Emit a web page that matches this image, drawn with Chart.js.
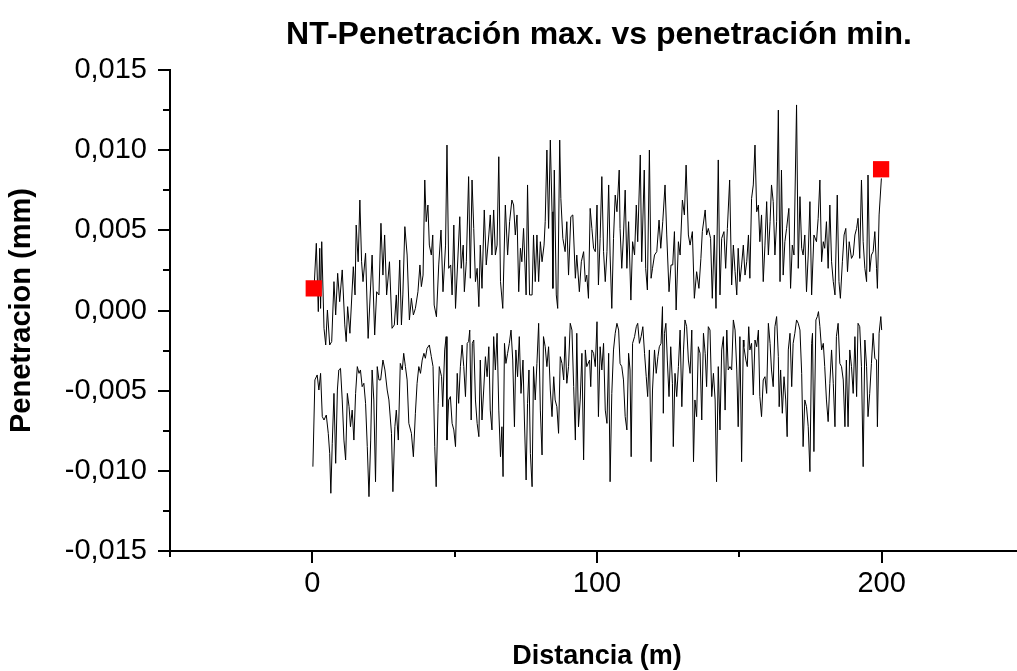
<!DOCTYPE html>
<html>
<head>
<meta charset="utf-8">
<script src="https://cdn.jsdelivr.net/npm/chart.js@4/dist/chart.umd.min.js"></script>
<style>
html,body{margin:0;padding:0;background:#fff;overflow:hidden;width:1017px;height:671px}
#wrap{position:absolute;left:0;top:0;width:1040px;height:671px}
</style>
</head>
<body>
<div id="wrap"><canvas id="c" width="1040" height="671"></canvas></div>
<script>
// ---- data (distance in m, penetration in micrometres = 0.001 mm) ----
const upperX = [0.5,1.4,2.1,2.6,2.9,3.3,4.1,4.7,5.3,6.1,6.8,7.6,8.2,8.9,9.6,10.5,11.4,11.9,12.4,13.2,14.4,15.0,15.4,16.1,16.7,17.3,17.8,18.7,19.6,21.0,21.9,22.6,23.4,24.1,24.8,25.4,26.1,27.1,28.0,28.8,29.5,29.9,30.7,31.3,31.8,32.5,33.3,34.1,34.8,35.5,36.2,37.1,37.8,38.3,38.9,39.5,40.0,40.6,41.1,41.8,42.3,42.8,43.6,44.4,45.2,45.9,46.8,47.3,47.9,48.6,49.1,49.7,
50.3,51.8,52.3,53.0,53.4,54.1,54.9,55.5,56.1,56.7,57.3,57.9,58.5,59.0,59.6,60.4,61.1,62.0,62.5,63.1,63.7,64.3,64.9,65.5,66.1,66.9,67.8,68.6,69.3,70.1,70.7,71.3,71.9,72.5,73.1,73.6,74.2,75.1,75.6,76.3,77.2,77.7,78.3,78.9,79.5,80.1,80.7,81.4,81.8,82.4,83.0,83.6,84.2,84.5,85.0,85.7,86.2,86.9,87.3,88.0,88.8,89.4,90.0,90.8,91.5,92.4,92.9,93.8,94.5,95.3,95.9,96.4,97.0,97.6,98.2,98.8,99.4,100.0,100.5,
101.1,101.7,102.3,102.9,103.5,104.1,104.6,105.2,105.8,106.4,107.0,107.8,108.1,108.7,109.3,109.9,110.5,111.1,111.9,112.5,113.2,113.8,114.3,115.2,115.7,116.6,117.1,117.7,118.4,119.0,119.5,120.2,121.0,121.8,122.4,123.1,123.9,124.5,125.3,126.0,126.6,127.2,127.8,128.6,129.2,130.0,130.7,131.3,132.1,132.7,133.5,134.2,135.0,135.8,136.5,137.0,138.0,138.5,139.1,139.9,140.5,141.2,141.8,142.6,143.2,143.8,144.6,145.2,145.8,146.6,147.3,147.9,148.5,149.1,149.6,150.2,150.8,151.4,
152.0,152.6,153.2,153.7,154.3,154.9,155.5,156.1,156.7,157.2,157.8,158.4,159.0,159.6,160.2,160.8,161.3,161.9,162.5,163.1,163.7,164.3,164.8,165.4,166.0,166.6,167.4,168.0,168.6,169.2,170.1,170.7,171.3,171.9,172.4,173.0,173.6,174.2,174.8,175.4,176.2,177.1,177.7,178.3,178.9,179.5,180.0,180.6,181.2,181.8,182.4,183.0,183.6,184.4,185.0,185.5,186.2,186.8,187.4,188.0,188.6,189.4,190.0,190.6,191.2,191.7,192.3,192.9,193.5,194.1,194.7,195.2,195.8,196.4,197.0,197.6,198.2,198.5,199.1,199.9];
const upperY = [1.0,4.19,-0.07,3.88,0.13,4.29,-1.11,-2.15,0.03,-2.15,-1.94,1.80,-0.28,2.32,0.55,2.53,-0.9,-1.94,0.24,-1.42,2.73,0.97,5.33,3.04,6.89,3.04,1.80,3.57,-1.74,3.46,-1.53,1.17,0.97,5.44,2.21,4.71,0.97,3.04,-1.11,-0.9,0.97,-0.9,3.15,-0.9,0.97,5.23,3.46,-0.59,0.76,-0.28,0.13,1.17,2.84,1.49,2.21,8.14,5.54,6.58,4.08,3.46,4.71,0.34,-0.39,2.84,5.02,1.17,4.08,10.32,2.63,2.84,0.97,5.33,
0.13,5.85,2.63,4.08,1.17,3.04,8.35,2.01,8.14,5.12,1.80,2.63,0.24,4.08,1.38,6.27,2.84,4.71,5.96,3.46,6.27,3.46,4.08,9.59,1.80,0.13,6.58,3.46,5.54,6.89,6.58,4.71,5.96,1.17,3.88,3.04,5.12,0.97,7.83,0.97,0.97,4.71,1.80,4.71,1.80,4.29,3.04,4.08,5.54,10.01,5.12,10.63,6.16,1.38,8.76,0.97,0.13,10.63,6.99,4.5,3.67,5.54,2.21,5.85,5.96,2.01,3.46,1.17,3.04,3.67,1.80,2.21,0.76,6.37,5.12,3.88,3.67,6.58,1.59,
4.5,8.35,3.67,1.8,3.67,7.83,3.46,0.13,4.5,7.2,6.16,8.76,5.12,2.63,4.71,7.51,2.63,5.54,0.65,4.29,3.46,6.58,4.29,9.7,3.04,8.76,2.63,1.28,10.01,2.01,2.63,3.46,3.67,5.64,3.88,5.54,7.83,4.71,1.17,2.84,2.84,4.92,0.03,4.29,3.46,6.89,5.96,9.07,4.71,4.08,4.92,0.76,2.42,1.38,3.25,4.92,6.27,4.71,5.12,4.5,0.76,4.71,0.13,9.39,0.97,4.5,4.92,2.63,5.12,8.14,1.59,4.08,2.42,0.97,3.88,1.8,2.84,4.08,
2.21,3.04,4.71,2.01,6.99,7.83,10.32,6.16,6.58,4.29,5.96,1.8,4.08,6.79,3.46,5.54,7.83,6.79,3.46,5.54,12.5,1.8,8.76,2.21,4.29,5.12,6.37,1.38,4.08,3.46,12.82,2.63,7.1,3.88,3.46,4.71,1.17,3.46,6.79,0.97,4.71,4.29,5.75,8.14,3.04,4.29,3.88,5.54,2.63,6.58,3.04,1.8,0.97,7.2,1.8,0.76,3.04,4.71,5.12,2.42,4.29,3.25,3.46,4.71,5.12,5.75,3.25,8.14,4.29,2.63,1.8,8.45,2.42,3.46,3.67,4.92,2.63,1.38,5.96,8.24];

const lowerX = [0.2,0.9,1.7,2.3,2.9,3.5,4.1,4.9,5.6,6.1,6.5,7.0,7.6,8.2,8.8,9.3,9.9,10.5,11.1,11.7,12.3,12.9,13.4,14.0,14.6,15.2,15.8,16.4,16.9,17.5,18.1,18.7,19.3,19.9,20.5,21.0,21.6,22.2,22.8,23.4,24.0,24.8,25.5,26.3,26.9,27.8,28.3,29.0,29.5,30.2,30.9,31.6,32.1,32.7,33.3,33.9,34.8,35.5,36.2,36.8,37.4,38.0,38.6,39.2,39.7,40.3,41.1,41.8,42.4,43.0,43.5,44.2,44.6,45.4,45.8,46.5,47.0,47.3,47.9,48.5,49.1,49.7,
50.3,50.9,51.4,52.0,52.6,53.2,53.8,54.4,54.9,55.3,55.8,56.2,56.7,57.3,57.9,58.5,59.0,59.6,60.2,60.8,61.4,62.0,62.5,63.1,63.7,64.3,64.9,65.5,66.1,66.6,67.0,67.5,68.0,68.6,69.2,69.8,70.4,71.0,71.5,72.1,72.7,73.3,74.0,74.5,75.1,75.6,76.1,76.6,77.2,77.7,78.3,78.9,79.5,80.1,80.7,81.2,81.8,82.4,83.0,83.6,84.2,84.8,85.3,85.9,86.5,87.1,87.7,88.3,88.8,89.4,90.0,90.6,91.2,91.8,92.4,92.9,93.5,94.1,94.7,95.3,95.9,96.4,97.4,97.8,98.2,98.8,99.4,100.0,100.5,
101.1,101.7,102.3,102.9,103.5,104.1,104.6,105.2,105.8,106.4,107.0,107.6,108.1,108.7,109.3,109.9,110.5,111.1,111.6,112.0,112.5,113.2,113.8,114.3,114.9,115.5,116.1,116.7,117.3,117.8,118.4,119.0,119.5,120.2,120.8,121.4,121.9,122.5,123.0,123.3,123.7,124.2,124.7,125.3,125.9,126.5,126.8,127.4,128.0,128.6,129.2,129.8,130.4,130.9,131.5,132.1,132.7,133.3,133.9,134.4,135.0,135.6,136.2,136.8,137.4,138.0,138.5,139.1,139.7,140.3,140.9,141.5,142.0,142.6,143.2,143.8,144.4,145.0,145.6,146.1,146.7,147.3,147.9,148.5,149.1,149.6,150.2,150.8,151.4,
151.6,152.3,152.8,153.3,153.7,154.3,154.9,155.5,156.1,156.7,157.2,157.8,158.4,159.0,159.6,160.2,160.8,161.3,161.9,162.5,163.1,163.7,164.0,164.5,165.1,165.7,166.3,166.8,167.2,167.8,168.4,168.9,169.5,170.1,170.7,171.3,171.9,172.4,173.0,173.6,174.2,174.8,175.4,175.7,176.2,176.9,177.4,177.8,178.3,178.9,179.5,180.0,180.6,181.2,181.8,182.4,183.0,183.6,184.1,184.7,185.3,185.9,186.5,187.1,187.6,188.2,188.8,189.4,190.0,190.6,191.2,191.7,192.3,192.9,193.5,194.1,194.7,195.2,195.8,196.4,197.0,197.6,198.2,198.5,199.1,199.7,200.0];
const lowerY = [-9.74,-4.33,-4.02,-4.96,-3.92,-6.62,-6.83,-6.52,-7.66,-8.91,-11.4,-8.28,-5.17,-9.53,-4.96,-3.71,-3.61,-5.58,-8.08,-9.32,-5.17,-6.0,-7.25,-6.21,-8.08,-5.17,-3.5,-3.92,-3.71,-4.75,-4.54,-5.79,-8.49,-11.61,-8.08,-3.71,-5.58,-10.68,-3.5,-4.33,-4.33,-3.09,-3.71,-4.96,-5.58,-7.66,-11.3,-7.25,-6.21,-8.08,-3.3,-3.71,-2.67,-3.5,-4.33,-7.04,-7.66,-9.12,-6.41,-4.54,-3.5,-3.92,-3.09,-2.67,-2.98,-2.36,-2.15,-2.88,-3.5,-8.49,-10.99,-5.79,-3.5,-4.13,-6.0,-2.46,-1.63,-8.08,-5.58,-5.37,-7.04,-7.45,
-8.49,-3.92,-5.79,-3.5,-2.15,-3.5,-5.37,-2.05,-1.94,-1.22,-6.83,-2.05,-1.84,-5.58,-7.04,-7.87,-3.09,-6.83,-4.96,-2.88,-4.13,-2.26,-6.21,-7.45,-1.63,-3.71,-1.42,-6.21,-9.12,-7.25,-10.36,-2.05,-3.3,-2.67,-2.05,-1.22,-3.09,-7.25,-2.46,-4.13,-1.63,-5.17,-3.09,-6.83,-10.57,-5.79,-3.71,-8.91,-10.99,-3.5,-5.58,-3.3,-0.8,-6.21,-9.01,-1.63,-2.26,-3.5,-2.26,-4.96,-6.62,-4.13,-5.58,-6.0,-7.66,-2.88,-3.3,-4.33,-1.63,-4.54,-3.5,-0.8,-1.22,-4.75,-8.08,-1.42,-7.25,-5.58,-2.67,-9.32,-2.46,-3.5,-3.09,-4.75,-2.46,-2.67,-3.5,-0.7,-6.62,
-2.26,-3.71,-2.05,-6.21,-7.04,-2.67,-10.68,-5.17,-2.46,-1.42,-0.8,-1.22,-3.3,-3.5,-4.33,-6.62,-7.45,-2.67,-3.71,-9.12,-2.05,-1.63,-1.01,-0.8,-2.05,-1.63,-1.01,-2.67,-4.13,-5.37,-2.46,-9.43,-4.96,-2.46,-3.92,-2.88,-2.26,-2.05,0.24,-6.41,-1.42,-0.8,-3.09,-5.37,-2.26,-4.54,-8.49,-3.92,-5.37,-3.5,-1.22,-6.0,-2.46,-0.59,-1.01,-3.09,-3.92,-1.22,-9.43,-5.58,-6.62,-2.26,-2.67,-6.83,-1.42,-2.67,-4.75,-1.01,-1.22,-5.37,-3.92,-5.58,-10.68,-3.5,-7.45,-2.46,-1.63,-6.21,-1.22,-3.71,-3.5,-3.71,-0.59,-1.22,-3.71,-7.25,-1.63,-9.43,-1.84,
-2.26,-3.09,-3.5,-1.01,-2.46,-2.05,-5.27,-1.84,-2.26,-1.22,-5.37,-6.62,-4.33,-4.13,-5.17,-0.8,-2.05,-3.71,-4.75,-1.01,-0.38,-2.88,-6.0,-3.71,-6.41,-4.13,-5.58,-7.87,-2.46,-1.42,-4.75,-2.05,-1.42,-0.59,-0.8,-1.22,-3.92,-8.49,-5.58,-6.0,-7.25,-10.05,-2.05,-1.42,-8.8,-0.59,-0.38,-0.07,-1.01,-2.46,-2.05,-3.5,-5.58,-6.93,-4.54,-2.46,-4.54,-7.25,-1.63,-0.8,-3.3,-3.5,-4.33,-7.25,-3.09,-7.25,-2.46,-3.5,-5.17,-1.63,-5.37,-0.8,-1.01,-3.5,-9.74,-1.84,-3.5,-6.62,-5.17,-3.3,-1.42,-2.98,-3.09,-7.25,-1.42,-0.38,-1.22];

const markerX = [0.5, 199.8];
const markerY = [1.38, 8.81];

// axis ticks
const xMin = -50, xMax = 250, xStep = 50, xMajorEvery = 100;
const yMin = -0.015, yMax = 0.015, yStep = 0.0025, yMajorEvery = 0.005;

const titleText = 'NT-Penetración max. vs penetración min.';
const xTitle = 'Distancia (m)';
const yTitle = 'Penetracion (mm)';

const FONT = "'Liberation Sans', Arial, sans-serif";
const toPts = (xs, ys) => xs.map((x, i) => ({ x: x, y: ys[i] / 1000 }));
const isMult = (v, m) => Math.abs(Math.round(v / m) * m - v) < 1e-9;
const fmtY = v => {
  if (!isMult(v, yMajorEvery)) return '';
  let s = Math.abs(v).toFixed(3).replace('.', ',');
  return (v < -1e-9 ? '-' : '') + s;
};

const tickPlugin = {
  id: 'customTicks',
  afterDraw(chart) {
    const ctx = chart.ctx;
    const xs = chart.scales.x, ys = chart.scales.y;
    const area = chart.chartArea;
    ctx.save();
    ctx.strokeStyle = '#000';
    ctx.lineWidth = 2;
    xs.ticks.forEach(t => {
      const px = Math.round(xs.getPixelForValue(t.value));
      const len = isMult(t.value, xMajorEvery) ? 12 : 6;
      ctx.beginPath();
      ctx.moveTo(px, area.bottom);
      ctx.lineTo(px, area.bottom + len);
      ctx.stroke();
    });
    ys.ticks.forEach(t => {
      const py = Math.round(ys.getPixelForValue(t.value));
      const len = isMult(t.value, yMajorEvery) ? 12 : 7;
      ctx.beginPath();
      ctx.moveTo(area.left, py);
      ctx.lineTo(area.left - len, py);
      ctx.stroke();
    });
    // chart title
    ctx.fillStyle = '#000';
    ctx.font = 'bold 32px ' + FONT;
    ctx.textAlign = 'center';
    ctx.textBaseline = 'alphabetic';
    ctx.fillText(titleText, 599, 44);
    ctx.restore();
  }
};

new Chart(document.getElementById('c'), {
  type: 'scatter',
  data: {
    datasets: [
      {
        label: 'marcas',
        data: toPts(markerX, markerY),
        showLine: false,
        pointStyle: 'rect',
        pointRadius: 11.5,
        backgroundColor: '#ff0000',
        borderColor: '#ff0000',
        borderWidth: 0,
        order: 0
      },
      {
        label: 'Penetración max.',
        data: toPts(upperX, upperY),
        showLine: true,
        borderColor: '#000',
        borderWidth: 1,
        pointRadius: 0,
        tension: 0,
        order: 1
      },
      {
        label: 'Penetración min.',
        data: toPts(lowerX, lowerY),
        showLine: true,
        borderColor: '#000',
        borderWidth: 1,
        pointRadius: 0,
        tension: 0,
        order: 1
      }
    ]
  },
  options: {
    responsive: false,
    animation: false,
    devicePixelRatio: 1,
    layout: { padding: { top: 70, right: 15, left: 0, bottom: 0 } },
    plugins: { legend: { display: false }, tooltip: { enabled: false }, title: { display: false } },
    scales: {
      x: {
        type: 'linear',
        min: xMin, max: xMax,
        afterFit: s => { s.height = 120; },
        grid: { display: false, drawTicks: false },
        border: { display: true, color: '#000', width: 2 },
        ticks: {
          stepSize: xStep,
          autoSkip: false,
          maxRotation: 0,
          padding: 16,
          color: '#000',
          font: { family: FONT, size: 29 },
          callback: v => isMult(v, xMajorEvery) ? String(Math.round(v)) : ''
        },
        title: {
          display: true, text: xTitle, color: '#000',
          font: { family: FONT, size: 27, weight: 'bold', lineHeight: 1 },
          padding: { top: 0, bottom: 1 }
        }
      },
      y: {
        type: 'linear',
        min: yMin, max: yMax,
        afterFit: s => { s.width = 170; },
        grid: { display: false, drawTicks: false },
        border: { display: true, color: '#000', width: 2 },
        ticks: {
          stepSize: yStep,
          autoSkip: false,
          padding: 23,
          color: '#000',
          font: { family: FONT, size: 29 },
          callback: v => fmtY(v)
        },
        title: {
          display: true, text: yTitle, color: '#000',
          font: { family: FONT, size: 29, weight: 'bold', lineHeight: 1 },
          padding: { top: 7, bottom: 0 }
        }
      }
    }
  },
  plugins: [tickPlugin]
});
</script>
</body>
</html>
